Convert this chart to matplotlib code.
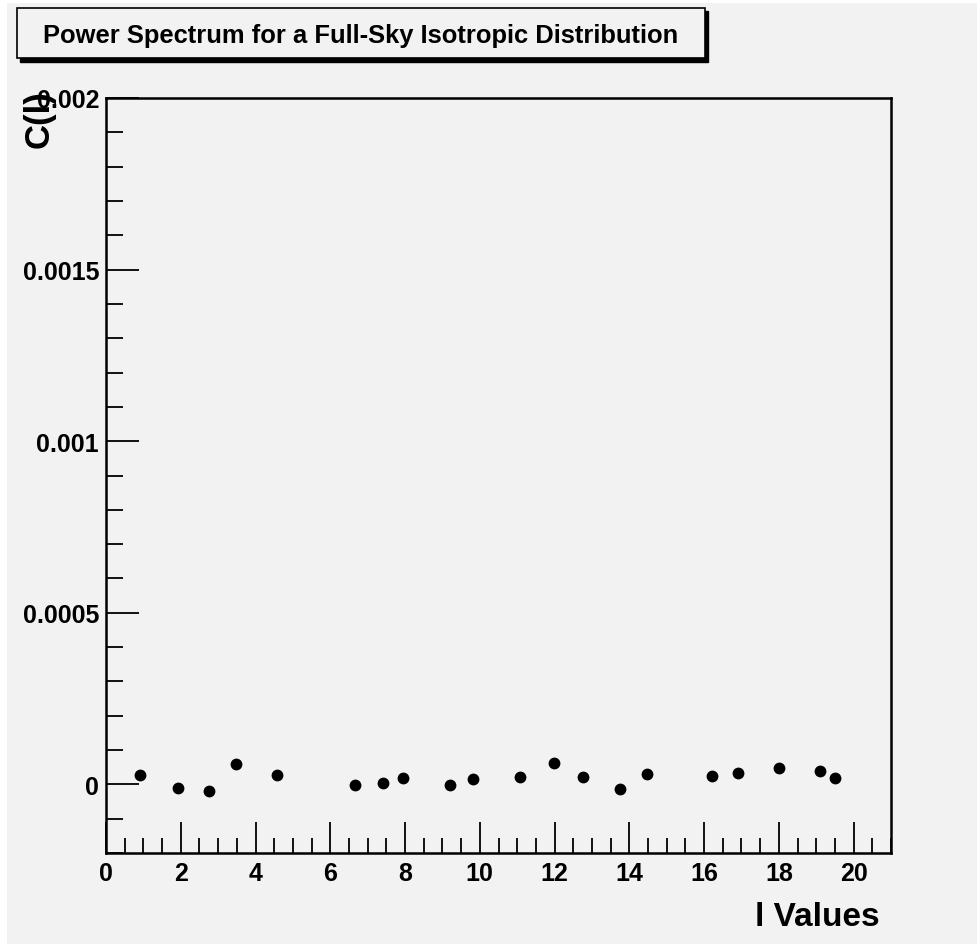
import matplotlib
matplotlib.use("Agg")
import matplotlib.pyplot as plt
from matplotlib.patches import Rectangle
from matplotlib.ticker import MultipleLocator, FixedFormatter, FixedLocator

# multipole values and measured power
l_values = [0.91, 1.93, 2.75, 3.47, 4.58, 6.65, 7.41, 7.94, 9.20, 9.83,
            11.07, 11.99, 12.77, 13.75, 14.48, 16.22, 16.92, 18.00, 19.09, 19.50]
c_l = [2.74e-5, -1.05e-5, -2.04e-5, 6.0e-5, 2.74e-5, -2.9e-6, 4.0e-6, 1.86e-5, -2.0e-6, 1.57e-5,
       2.15e-5, 6.2e-5, 2.24e-5, -1.34e-5, 3.0e-5, 2.45e-5, 3.3e-5, 4.66e-5, 3.8e-5, 1.86e-5]

y_ticks = [0, 0.0005, 0.001, 0.0015, 0.002]
y_tick_labels = ["0", "0.0005", "0.001", "0.0015", "0.002"]
x_ticks = [0, 2, 4, 6, 8, 10, 12, 14, 16, 18, 20]

title = "Power Spectrum for a Full-Sky Isotropic Distribution"
bg = "#f2f2f2"

plt.rcParams['font.family'] = ['Liberation Sans', 'DejaVu Sans']
plt.rcParams['font.weight'] = 'bold'

W, H = 977, 945
fig = plt.figure(figsize=(W / 100, H / 100), dpi=100, facecolor="white")

# canvas background (thin white strip at left/top)
fig.patches.append(Rectangle((7 / W, 0), 1, 1 - 4 / H, transform=fig.transFigure,
                             facecolor=bg, edgecolor="none", zorder=-10))

ax = fig.add_axes([106 / W, 1 - 854 / H, (891 - 106) / W, (854 - 99) / H])
ax.set_facecolor(bg)
ax.plot(l_values, c_l, "o", color="black", markersize=8.5, markeredgewidth=0)

ax.set_xlim(0, 21)
ax.set_ylim(-0.0002, 0.002)

ax.xaxis.set_major_locator(FixedLocator(x_ticks))
ax.xaxis.set_minor_locator(MultipleLocator(0.5))
ax.yaxis.set_major_locator(FixedLocator(y_ticks))
ax.yaxis.set_major_formatter(FixedFormatter(y_tick_labels))
ax.yaxis.set_minor_locator(MultipleLocator(0.0001))

ax.tick_params(axis="x", which="major", direction="in", length=22, width=1.3,
               labelsize=18, pad=6, top=False)
ax.tick_params(axis="x", which="minor", direction="in", length=11, width=1.3, top=False)
ax.tick_params(axis="y", which="major", direction="in", length=24, width=1.3,
               labelsize=18, pad=5, right=False)
ax.tick_params(axis="y", which="minor", direction="in", length=12, width=1.3, right=False)
for lab in ax.get_xticklabels() + ax.get_yticklabels():
    lab.set_fontweight("bold")
for s in ax.spines.values():
    s.set_linewidth(1.8)

# axis titles placed at the far ends, ROOT style
fig.text(880 / W, 1 - 918 / H, "l Values", ha="right", va="center",
         fontsize=24, fontweight="bold")
fig.text(39 / W, 1 - 90 / H, "C(l)", ha="center", va="top", rotation=90,
         fontsize=25, fontweight="bold")

# title box with drop shadow
fig.patches.append(Rectangle((20 / W, 1 - 63 / H), 688 / W, 51 / H, transform=fig.transFigure,
                             facecolor="black", edgecolor="black", zorder=1))
fig.patches.append(Rectangle((17 / W, 1 - 59 / H), 688 / W, 50 / H, transform=fig.transFigure,
                             facecolor=bg, edgecolor="black", linewidth=1.2, zorder=2))
fig.text(361 / W, 1 - 36 / H, title, ha="center", va="center",
         fontsize=18.4, fontweight="bold", zorder=3)

fig.savefig("out.png", dpi=100, facecolor=fig.get_facecolor())
